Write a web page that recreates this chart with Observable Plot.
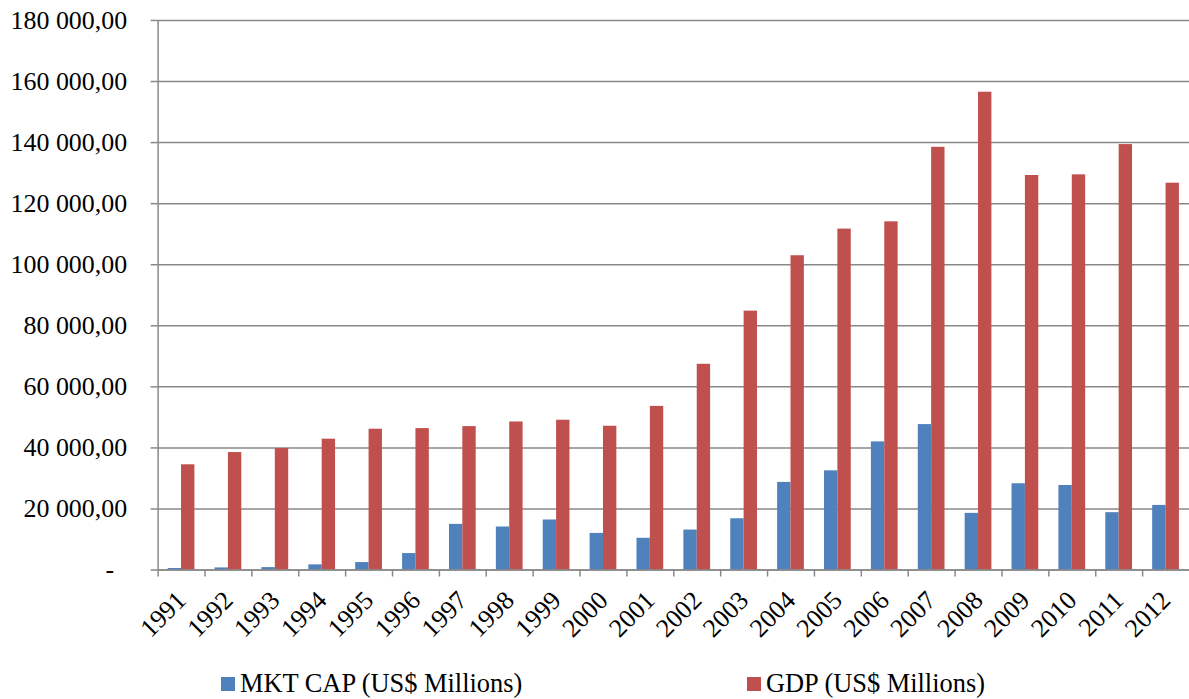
<!DOCTYPE html>
<html><head><meta charset="utf-8">
<script src="https://cdn.jsdelivr.net/npm/d3@7"></script>
<script src="https://cdn.jsdelivr.net/npm/@observablehq/plot@0.6"></script>
<style>
body{margin:0;background:#fff;overflow:hidden;}
#wrap{position:relative;width:1189px;height:699px;overflow:hidden;font-family:"Liberation Serif","Times New Roman",serif;}
#legend{position:absolute;left:0;top:660px;}
</style></head>
<body><div id="wrap"><div id="chart"></div><div id="legend"></div></div>
<script>
const years = ["1991","1992","1993","1994","1995","1996","1997","1998","1999","2000","2001","2002","2003","2004","2005","2006","2007","2008","2009","2010","2011","2012"];
const mktCap = [500,700,800,1700,2450,5400,14960,14100,16400,12000,10400,13100,16800,28700,32500,41980,47640,18560,28260,27700,18790,21170];
const gdp = [34470,38480,39800,42860,46130,46330,46980,48500,49070,47100,53600,67390,84800,102940,111670,114050,138460,156500,129220,129430,139350,126700];
const seriesNames = ["MKT CAP (US$ Millions)","GDP (US$ Millions)"];
const seriesColors = ["#4F81BD","#C0504D"];
const yTicks = [0,20000,40000,60000,80000,100000,120000,140000,160000,180000];

const W = 1192, H = 660, ML = 158, MR = 0, MT = 20, MB = 89;
const bw = (W - ML - MR) / years.length;
const loc = d3.formatLocale({decimal: ",", thousands: " ", grouping: [3], currency: ["", ""]});
const fmt = loc.format(",.2f");
const yFmt = d => d === 0 ? "-\u00a0\u00a0" : fmt(d);

const rows = years.map((y, i) => ({year: y, mkt: mktCap[i], gdp: gdp[i]}));
const grid = "#888888";
const FF = '"Liberation Serif","Times New Roman",serif';

const chart = Plot.plot({
  width: W, height: H,
  marginLeft: ML, marginRight: MR, marginTop: MT, marginBottom: MB,
  style: {fontFamily: FF, fontSize: "26px", color: "#000", background: "#fff"},
  x: {type: "band", domain: years, padding: 0, round: false, label: null},
  y: {domain: [0, 180000], label: null},
  marks: [
    Plot.gridY(yTicks, {stroke: grid, strokeOpacity: 1, strokeWidth: 1.5}),
    Plot.barY(rows, {x: "year", y: "mkt", fill: seriesColors[0], insetLeft: 10.1, insetRight: bw / 2}),
    Plot.barY(rows, {x: "year", y: "gdp", fill: seriesColors[1], insetLeft: bw / 2, insetRight: 10.1}),
    Plot.ruleY([0], {stroke: grid, strokeWidth: 1.5}),
    Plot.ruleX([years[0]], {x: d => d, dx: -bw / 2, y1: 0, y2: 180000, stroke: grid, strokeWidth: 1.5}),
    Plot.axisY(yTicks, {tickSize: 7, tickPadding: 24, tickFormat: yFmt, stroke: grid, strokeWidth: 1.5, fill: "#000", fontSize: 26, label: null}),
    Plot.axisX(years, {tickSize: 7, dx: -bw / 2, tickFormat: () => "", stroke: grid, strokeWidth: 1.5, label: null}),
    Plot.axisX(years, {tickSize: 0, tickRotate: -45, tickPadding: 26, fill: "#000", fontSize: 26, dx: 0, label: null})
  ]
});
document.getElementById("chart").appendChild(chart);

const lg = `<svg width="1189" height="39" xmlns="http://www.w3.org/2000/svg">
<rect x="221" y="17" width="14" height="14" fill="${seriesColors[0]}"/>
<text x="240" y="32" font-family="Liberation Serif, Times New Roman, serif" font-size="26.4">${seriesNames[0]}</text>
<rect x="747" y="17" width="14" height="14" fill="${seriesColors[1]}"/>
<text x="766" y="32" font-family="Liberation Serif, Times New Roman, serif" font-size="26.4">${seriesNames[1]}</text>
</svg>`;
document.getElementById("legend").innerHTML = lg;
</script>
</body></html>
